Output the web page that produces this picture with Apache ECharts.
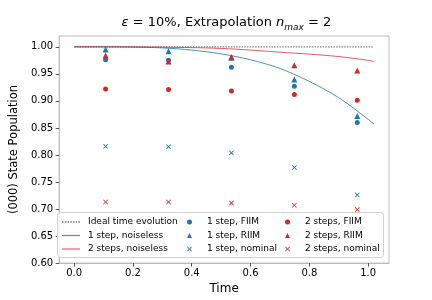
<!DOCTYPE html>
<html>
<head>
<meta charset="utf-8">
<script src="https://cdn.jsdelivr.net/npm/echarts@6/dist/echarts.min.js"></script>
<style>
html,body{margin:0;padding:0;background:#fff;}
#c{width:432px;height:300px;}
</style>
</head>
<body>
<div id="c"></div>
<script>
// ---- data ----
var times = [0.107, 0.321, 0.535, 0.749, 0.963];
var oneFIIM = [0.976, 0.975, 0.962, 0.927, 0.860];
var oneRIIM = [0.995, 0.992, 0.980, 0.9395, 0.872];
var oneNominal = [0.816, 0.815, 0.804, 0.777, 0.726];
var twoFIIM = [0.922, 0.921, 0.9185, 0.912, 0.901];
var twoRIIM = [0.984, 0.973, 0.981, 0.966, 0.956];
var twoNominal = [0.713, 0.713, 0.711, 0.707, 0.699];

var curveT = [0, 0.1, 0.2, 0.3, 0.4, 0.5, 0.6, 0.7, 0.8, 0.9, 1.0, 1.02];
var oneNoiseless = [1.0, 1.0, 0.9995, 0.998, 0.994, 0.987, 0.976, 0.960, 0.936, 0.906, 0.866, 0.857];
var twoNoiseless = [1.0, 1.0, 0.9998, 0.9993, 0.9985, 0.997, 0.994, 0.990, 0.9865, 0.982, 0.975, 0.973];
var idealT = [0, 1.02];
var idealV = [1.0, 1.0];

var xTicks = [0.0, 0.2, 0.4, 0.6, 0.8, 1.0];
var yTicks = [0.60, 0.65, 0.70, 0.75, 0.80, 0.85, 0.90, 0.95, 1.00];

var names = ['Ideal time evolution', '1 step, noiseless', '2 steps, noiseless',
  '1 step, FIIM', '1 step, RIIM', '1 step, nominal',
  '2 steps, FIIM', '2 steps, RIIM', '2 steps, nominal'];

// ---- build ----
function zip(a, b) { return a.map(function (v, i) { return [v, b[i]]; }); }
var BLUE = '#1f77b4', RED = '#d62728', GRAY = '#808080';
var FONT = 'DejaVu Sans';
var XPATH = 'path://M0,1.2 L1.2,0 L5,3.8 L8.8,0 L10,1.2 L6.2,5 L10,8.8 L8.8,10 L5,6.2 L1.2,10 L0,8.8 L3.8,5 Z';
var LINEICON = 'path://M0,0 H18 V1.2 H0 Z';
var DOTICON = (function () {
  var p = 'path://', x = 0;
  while (x < 18) { p += 'M' + x + ',0 h1.5 v1.3 h-1.5 Z '; x += 2.6; }
  return p;
})();

var chart = echarts.init(document.getElementById('c'), null, {renderer: 'canvas'});

function lineSeries(name, xs, ys, color, opacity, type, width) {
  return {
    name: name, type: 'line', data: zip(xs, ys), symbol: 'none', smooth: 0.3,
    lineStyle: {color: color, width: width, type: type, opacity: opacity},
    itemStyle: {color: color, opacity: opacity},
    silent: true, animation: false, z: 2
  };
}
function scatterSeries(name, ys, color, symbol, size) {
  return {
    name: name, type: 'scatter', data: zip(times, ys), symbol: symbol, symbolSize: size,
    itemStyle: {color: color, opacity: 1}, animation: false, z: 3
  };
}

function legendCol(left, data, w, h, pad) {
  return {
    orient: 'vertical', left: left, top: 216.5, itemGap: 2.5,
    itemWidth: w, itemHeight: h, data: data,
    textStyle: {fontFamily: FONT, fontSize: 9, color: '#000', lineHeight: 11, padding: [0, 0, 0, pad]},
    selectedMode: false, padding: 0, z: 10
  };
}

var option = {
  animation: false,
  backgroundColor: '#fff',
  title: {
    text: '{e|ε}{a| = 10%, Extrapolation }{i|n}{s|max}{a| = 2}',
    left: 221.5, textAlign: 'center', top: 11,
    textStyle: {
      fontWeight: 'normal',
      rich: {
        a: {fontFamily: FONT, fontSize: 13, fontWeight: 'normal', color: '#000', lineHeight: 16, verticalAlign: 'top'},
        e: {fontFamily: FONT, fontSize: 13, fontWeight: 'normal', color: '#000', fontStyle: 'italic', lineHeight: 16, verticalAlign: 'top'},
        i: {fontFamily: FONT, fontSize: 13, fontWeight: 'normal', color: '#000', fontStyle: 'italic', lineHeight: 16, verticalAlign: 'top'},
        s: {fontFamily: FONT, fontSize: 9, fontWeight: 'normal', color: '#000', fontStyle: 'italic', lineHeight: 10, verticalAlign: 'bottom'}
      }
    }
  },
  grid: {left: 54, right: 43, top: 36, bottom: 36, show: true, borderColor: '#bdbdbd', borderWidth: 1, backgroundColor: 'transparent'},
  xAxis: {
    type: 'value', min: -0.051, max: 1.071,
    name: 'Time', nameLocation: 'middle', nameGap: 11,
    nameTextStyle: {fontFamily: FONT, fontSize: 12, color: '#000', verticalAlign: 'top'},
    axisLine: {show: true, onZero: false, lineStyle: {color: '#bdbdbd', width: 1}},
    axisTick: {show: true, length: 3.5, customValues: xTicks, lineStyle: {color: '#555'}},
    axisLabel: {customValues: xTicks, margin: 5, fontFamily: FONT, fontSize: 10, color: '#000',
      formatter: function (v) { return v.toFixed(1); }},
    splitLine: {show: false}
  },
  yAxis: {
    type: 'value', min: 0.6, max: 1.02,
    name: '(000) State Population', nameLocation: 'middle', nameGap: 29,
    nameTextStyle: {fontFamily: FONT, fontSize: 11.5, color: '#000'},
    axisLine: {show: true, onZero: false, lineStyle: {color: '#bdbdbd', width: 1}},
    axisTick: {show: true, length: 3.5, customValues: yTicks, lineStyle: {color: '#555'}},
    axisLabel: {customValues: yTicks, margin: 6, fontFamily: FONT, fontSize: 10, color: '#000',
      formatter: function (v) { return v.toFixed(2); }},
    splitLine: {show: false}
  },
  legend: [
    legendCol(62, [
      {name: names[0], icon: DOTICON, itemStyle: {color: GRAY, opacity: 1}},
      {name: names[1], icon: LINEICON, itemStyle: {color: BLUE, opacity: 0.8}},
      {name: names[2], icon: LINEICON, itemStyle: {color: RED, opacity: 0.75}}
    ], 18, 8, 3),
    legendCol(187, [
      {name: names[3], icon: 'circle'}, {name: names[4], icon: 'triangle'}, {name: names[5], icon: XPATH}
    ], 5, 5, 10),
    legendCol(285, [
      {name: names[6], icon: 'circle'}, {name: names[7], icon: 'triangle'}, {name: names[8], icon: XPATH}
    ], 5, 5, 10)
  ],
  graphic: [{
    type: 'rect', left: 57, top: 212, z: 5,
    shape: {width: 326, height: 45, r: 3},
    style: {fill: 'rgba(255,255,255,0.8)', stroke: '#d0d0d0', lineWidth: 1}
  }],
  series: [
    lineSeries(names[0], idealT, idealV, GRAY, 1, [1.5, 1.2], 1.2),
    lineSeries(names[1], curveT, oneNoiseless, BLUE, 0.8, 'solid', 1),
    lineSeries(names[2], curveT, twoNoiseless, RED, 0.75, 'solid', 1),
    scatterSeries(names[3], oneFIIM, BLUE, 'circle', 5),
    scatterSeries(names[4], oneRIIM, BLUE, 'triangle', 6),
    scatterSeries(names[5], oneNominal, BLUE, XPATH, 5),
    scatterSeries(names[6], twoFIIM, RED, 'circle', 5),
    scatterSeries(names[7], twoRIIM, RED, 'triangle', 6),
    scatterSeries(names[8], twoNominal, RED, XPATH, 5)
  ]
};
chart.setOption(option);
</script>
</body>
</html>
